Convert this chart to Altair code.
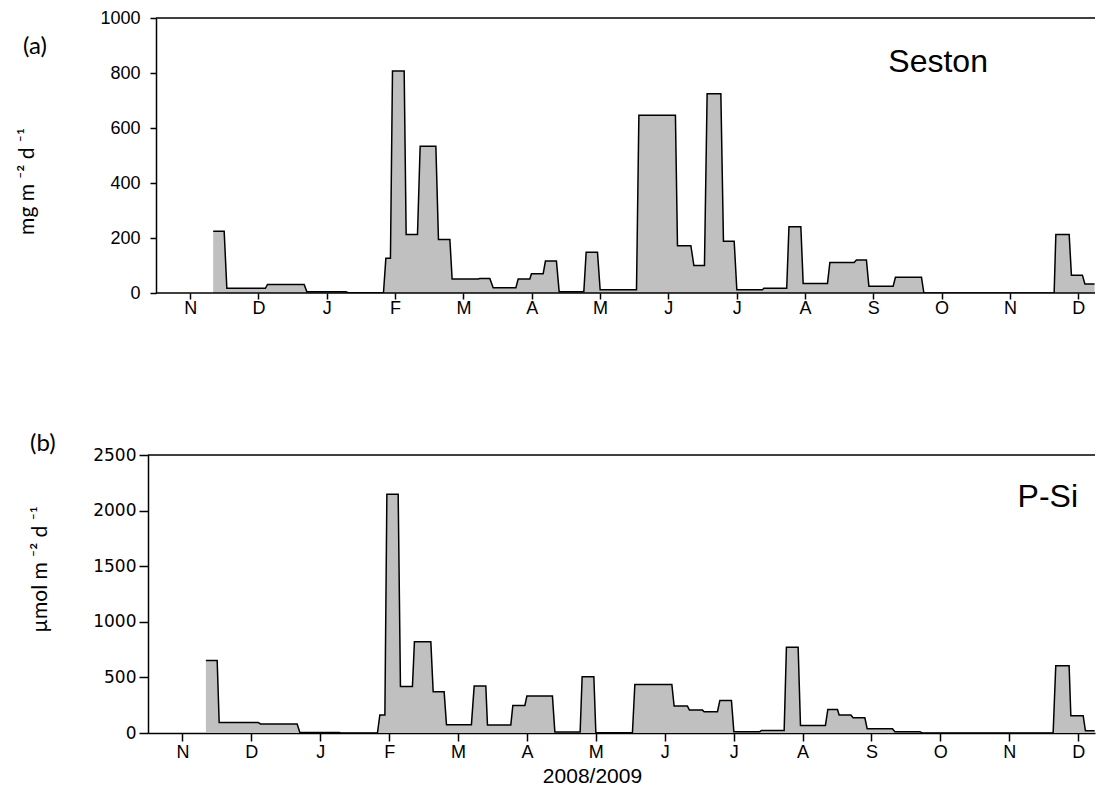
import json
import altair as alt
import pandas as pd

# ---------------- data ----------------
month_labels = ["N", "D", "J", "F", "M", "A", "M", "J", "J", "A", "S", "O", "N", "D"]
month_ticks = list(range(len(month_labels)))  # months since 1 Nov 2008

# (a) Seston flux, mg m-2 d-1 : trap intervals (start, end in months) and flux
seston_start = [0.337, 0.537, 1.132, 1.708, 2.313, 2.865, 2.962, 3.162, 3.367, 3.635,
                3.835, 4.240, 4.436, 4.802, 4.996, 5.201, 5.402, 5.797, 6.002, 6.569,
                7.134, 7.374, 7.568, 7.807, 8.003, 8.399, 8.766, 8.974, 9.365, 9.754,
                9.936, 10.325, 10.741, 12.673, 12.901, 13.098]
seston_end = [0.498, 1.102, 1.669, 2.279, 2.830, 2.932, 3.133, 3.328, 3.597, 3.802,
              4.216, 4.387, 4.768, 4.973, 5.168, 5.362, 5.763, 5.963, 6.534, 7.104,
              7.330, 7.529, 7.769, 7.964, 8.378, 8.733, 8.940, 9.330, 9.720, 9.900,
              10.291, 10.706, 12.648, 12.868, 13.062, 13.24]
seston_flux = [225, 17, 31, 5, 1, 126, 807, 213, 534, 195,
               51, 53, 19, 51, 70, 116, 5, 148, 12, 646,
               172, 100, 725, 188, 12, 17, 241, 35, 111, 120,
               25, 57, 0, 213, 65, 33]

# (b) P-Si flux, umol m-2 d-1
psi_start = [0.340, 0.533, 1.132, 1.704, 2.303, 2.865, 2.967, 3.164, 3.367, 3.639,
             3.832, 4.234, 4.427, 4.795, 4.999, 5.405, 5.801, 6.000, 6.566, 7.136,
             7.358, 7.572, 7.800, 8.003, 8.403, 8.766, 8.970, 9.367, 9.531, 9.734,
             9.938, 10.340, 10.736, 12.675, 12.894, 13.106]
psi_end = [0.504, 1.099, 1.665, 2.274, 2.830, 2.938, 3.131, 3.338, 3.605, 3.798,
           4.194, 4.403, 4.766, 4.970, 5.370, 5.772, 5.971, 6.531, 7.103, 7.329,
           7.547, 7.765, 7.968, 8.380, 8.733, 8.936, 9.332, 9.507, 9.701, 9.904,
           10.305, 10.702, 12.637, 12.869, 13.073, 13.24]
psi_flux = [652, 95, 81, 5, 0, 162, 2147, 419, 820, 371,
            75, 422, 73, 248, 332, 10, 506, 3, 437, 242,
            206, 191, 293, 12, 23, 772, 68, 212, 162, 137,
            39, 12, 0, 605, 155, 20]

panel_names = ["Seston", "P-Si"]
seston_ticks = [0, 200, 400, 600, 800, 1000]
psi_ticks = [0, 500, 1000, 1500, 2000, 2500]


def steps(starts, ends, vals):
    rows = []
    for s, e, v in zip(starts, ends, vals):
        rows.append({"m": s, "v": v})
        rows.append({"m": e, "v": v})
    return pd.DataFrame(rows)


df_a = steps(seston_start, seston_end, seston_flux)
df_b = steps(psi_start, psi_end, psi_flux)

# ---------------- layout ----------------
W = 947
HA, HB = 275, 278
PXA, PXB = 68.31, 68.9           # pixels per month in each panel
SHIFT_A = 8                      # panel (a) frame starts 8 px right of panel (b)
xa_lo = -0.5 - SHIFT_A / PXA
xa_hi = xa_lo + W / PXA
xb_lo = -0.5
xb_hi = xb_lo + W / PXB

label_expr = json.dumps(month_labels) + "[datum.value]"
FILL = "#c0c0c0"
TICKFONT = "Liberation Sans"
TITLEFONT = "Lato"

# ----- panel (a) -----
xa = alt.X("m:Q", scale=alt.Scale(domain=[xa_lo, xa_hi], nice=False, zero=False),
           axis=alt.Axis(values=month_ticks, labelExpr=label_expr, title=None,
                         domain=False, tickSize=6, labelPadding=0,
                         labelFontSize=18, labelFont=TICKFONT))
ya = alt.Y("v:Q", scale=alt.Scale(domain=[0, 1000], nice=False),
           axis=alt.Axis(values=seston_ticks, format="d", offset=-SHIFT_A, tickSize=6,
                         labelPadding=10, labelFontSize=18, labelFont=TICKFONT,
                         title="mg m ⁻² d ⁻¹", titleFont=TITLEFONT, titleFontSize=21,
                         titleX=-119, titleY=163, titleAngle=270))

area_a = alt.Chart(df_a).mark_area(color=FILL, clip=True).encode(x=xa, y=ya)
line_a = alt.Chart(df_a).mark_line(color="black", strokeWidth=1.5, clip=True).encode(
    x="m:Q", y="v:Q")
frame_a = alt.Chart(pd.DataFrame({"v": [0, 1000]})).mark_rule(
    color="black", strokeWidth=1.5).encode(
    x=alt.datum(-0.5), x2=alt.datum(xa_hi), y="v:Q")
lab_a = alt.Chart(pd.DataFrame({"m": [10.95], "v": [840], "t": [panel_names[0]]})).mark_text(
    font=TICKFONT, fontSize=32, align="center", baseline="middle", color="black").encode(
    x="m:Q", y="v:Q", text="t:N")

panel_a = alt.layer(area_a, line_a, frame_a, lab_a).properties(
    width=W, height=HA,
    title=alt.TitleParams("(a)", anchor="start", frame="group", dx=-125, dy=48,
                          font=TITLEFONT, fontSize=24, fontWeight="normal",
                          color="black", offset=-2))

# ----- panel (b) -----
xb = alt.X("m:Q", scale=alt.Scale(domain=[xb_lo, xb_hi], nice=False, zero=False),
           axis=alt.Axis(values=month_ticks, labelExpr=label_expr,
                         domain=True, tickSize=8, labelPadding=2,
                         labelFontSize=18, labelFont=TICKFONT,
                         title="2008/2009", titleFont=TICKFONT, titleFontSize=21,
                         titleFontWeight="normal", titleX=444, titleY=43,
                         titleBaseline="middle"))
yb = alt.Y("v:Q", scale=alt.Scale(domain=[0, 2500], nice=False),
           axis=alt.Axis(values=psi_ticks, format="d", tickSize=9, labelPadding=3,
                         labelFontSize=17, labelFont="DejaVu Sans",
                         title="µmol m ⁻² d ⁻¹", titleFont=TITLEFONT, titleFontSize=21,
                         titleX=-98, titleY=114, titleAngle=270))

area_b = alt.Chart(df_b).mark_area(color=FILL, clip=True).encode(x=xb, y=yb)
line_b = alt.Chart(df_b).mark_line(color="black", strokeWidth=1.5, clip=True).encode(
    x="m:Q", y="v:Q")
frame_b = alt.Chart(pd.DataFrame({"v": [2500]})).mark_rule(
    color="black", strokeWidth=1.5).encode(
    x=alt.datum(xb_lo), x2=alt.datum(xb_hi), y="v:Q")
lab_b = alt.Chart(pd.DataFrame({"m": [12.56], "v": [2123], "t": [panel_names[1]]})).mark_text(
    font=TICKFONT, fontSize=32, align="center", baseline="middle", color="black").encode(
    x="m:Q", y="v:Q", text="t:N")

panel_b = alt.layer(area_b, line_b, frame_b, lab_b).properties(
    width=W, height=HB,
    title=alt.TitleParams("(b)", anchor="start", frame="group", dx=-118, dy=10,
                          font=TITLEFONT, fontSize=24, fontWeight="normal",
                          color="black", offset=0))

chart = alt.vconcat(panel_a, panel_b, spacing=115).properties(
    padding={"left": 8, "top": 1, "right": 0, "bottom": 2}
).configure_view(stroke=None).configure_axis(
    grid=False, domainColor="black", tickColor="black", labelColor="black",
    titleColor="black", domainWidth=1.5, tickWidth=1.5, titleFontWeight="normal"
)

chart.save("out.html", embed_options={"renderer": "svg", "actions": False})
